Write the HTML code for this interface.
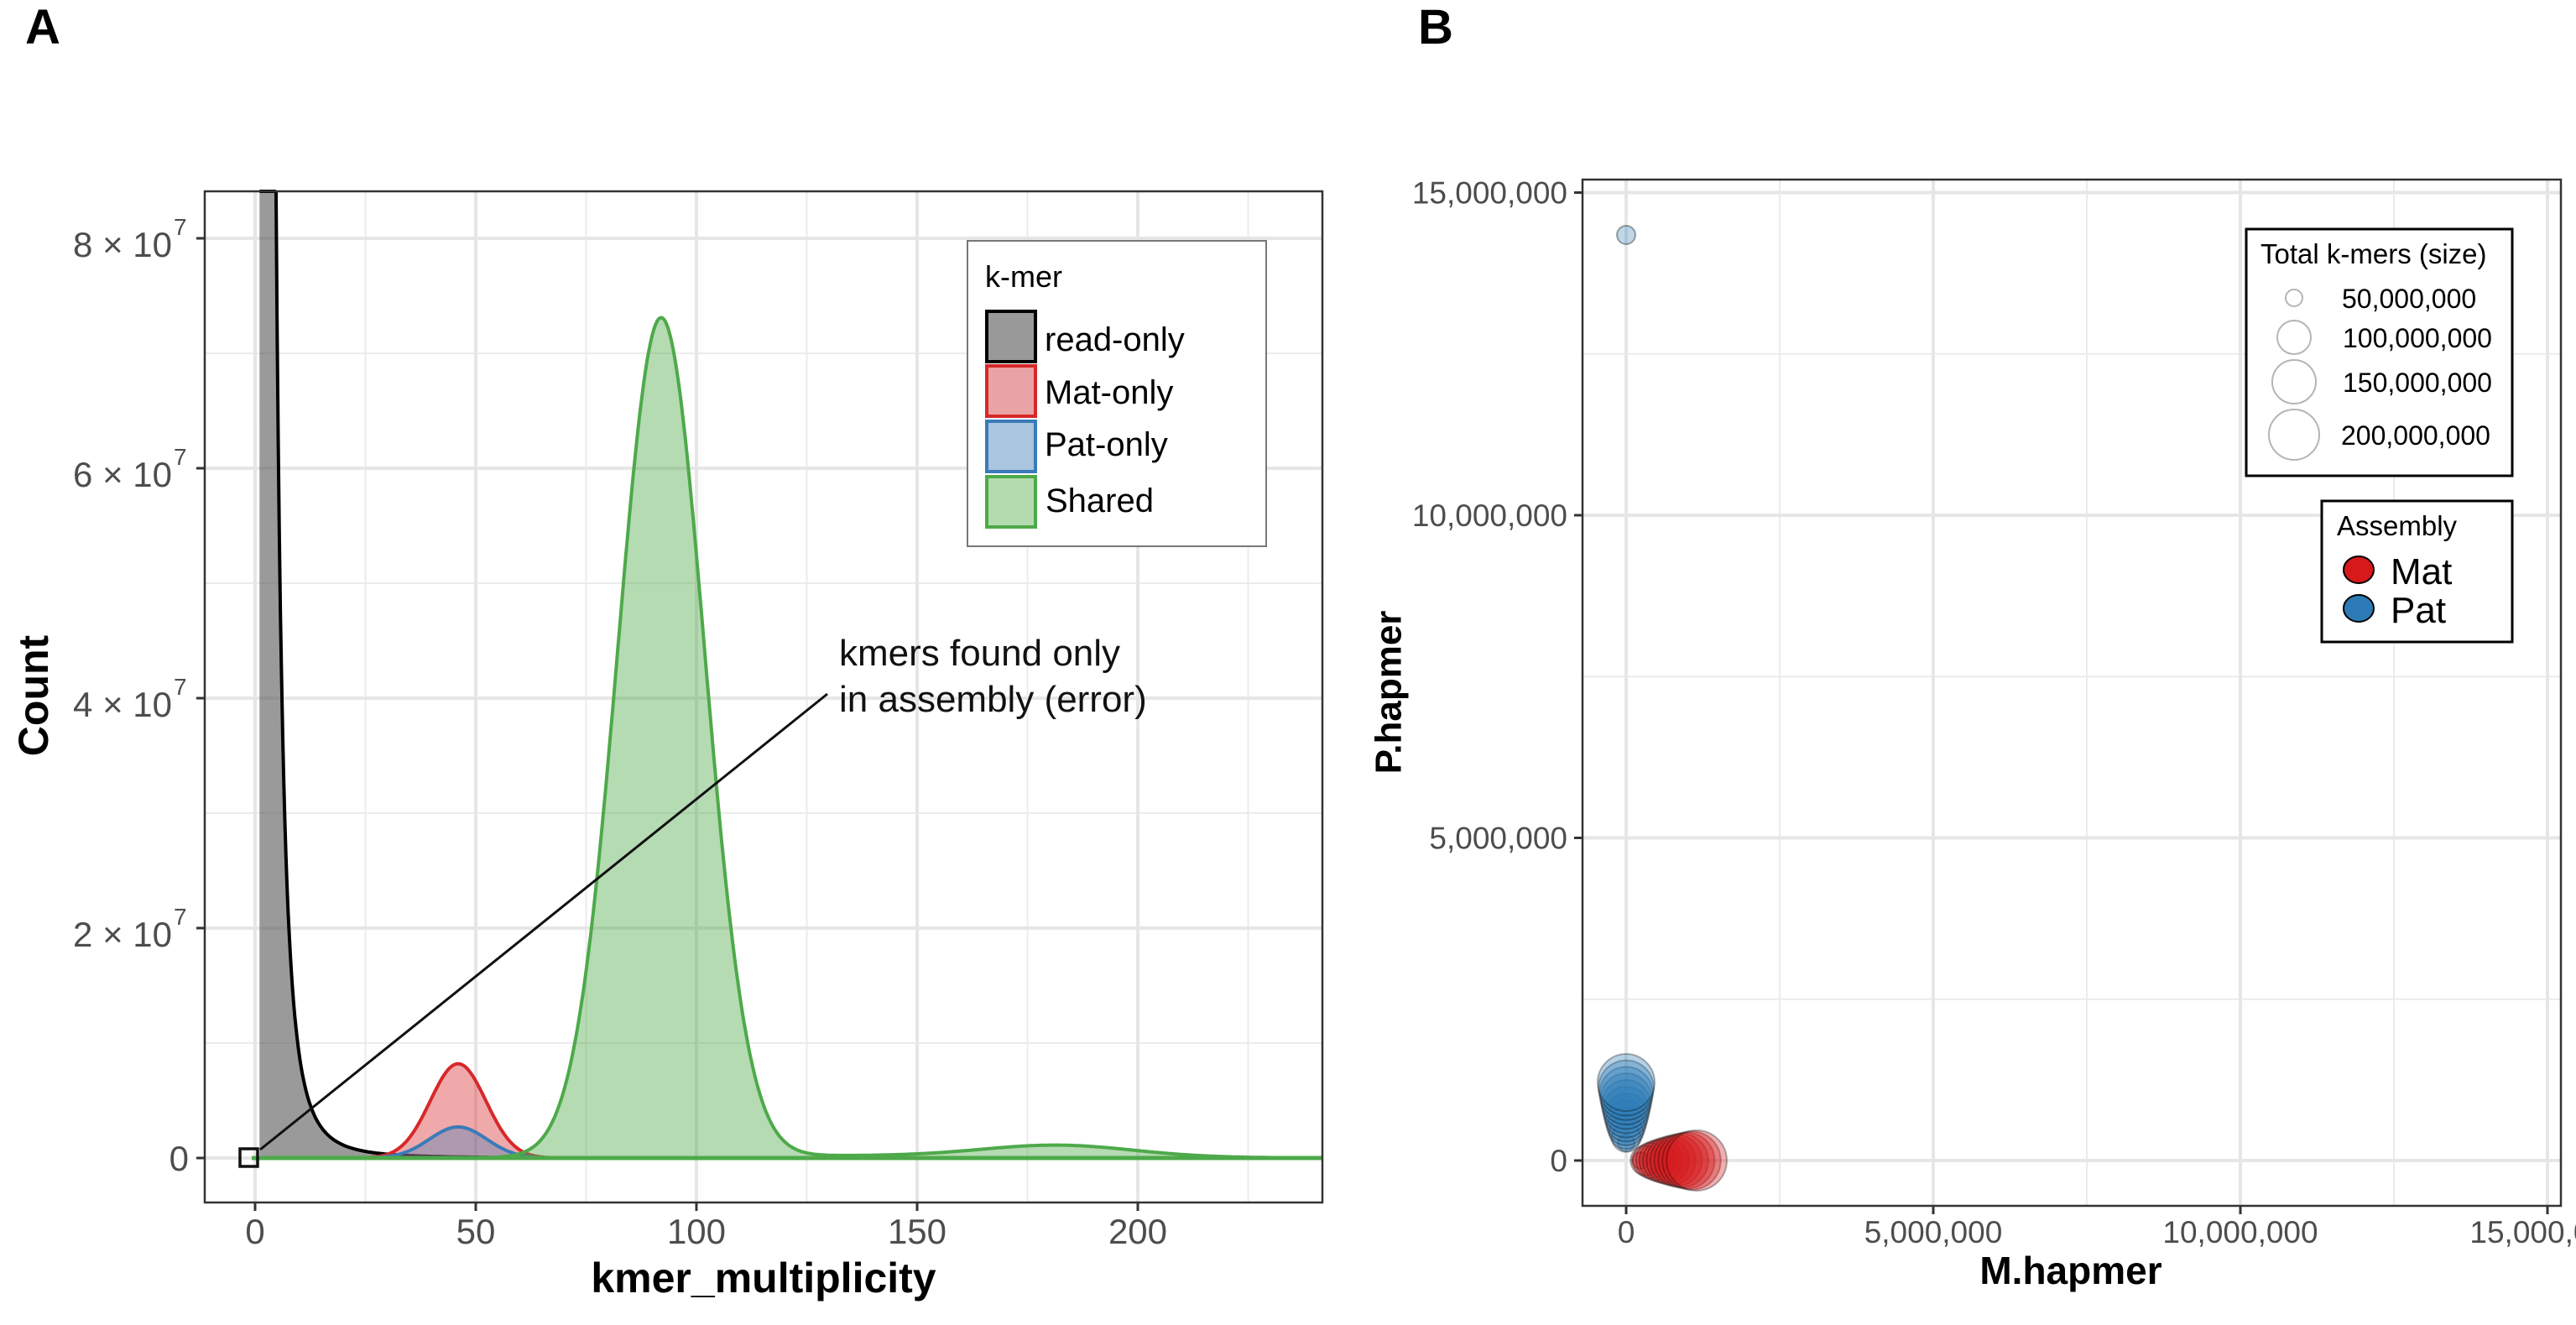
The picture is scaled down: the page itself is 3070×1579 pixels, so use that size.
<!DOCTYPE html>
<html><head><meta charset="utf-8"><style>
html,body{margin:0;padding:0;background:#fff;}
svg{display:block;font-family:"Liberation Sans",Arial,sans-serif;}
</style></head><body>
<svg id="s" width="3070" height="1579" viewBox="0 0 3070 1579" xmlns="http://www.w3.org/2000/svg">
<rect width="3070" height="1579" fill="#fff"/>
<text x="30" y="52" font-size="58" font-weight="bold">A</text>
<text x="1690" y="52" font-size="58" font-weight="bold">B</text>

<!-- Panel A -->
<g id="gA">
<rect x="244" y="228" width="1332" height="1205" fill="#fff"/>
<g stroke="#ebebeb" stroke-width="2" id="gridAminor"></g>
<g stroke="#e6e6e6" stroke-width="4" id="gridAmajor"></g>
<g id="curvesA"></g>
<line x1="300" y1="1380" x2="1576" y2="1380" stroke="#4ea94a" stroke-width="5"/>
<rect x="244" y="228" width="1332" height="1205" fill="none" stroke="#333" stroke-width="2.5"/>
<g id="ticksA" fill="#4d4d4d" font-size="42"></g>
<text x="40" y="829" font-size="50" font-weight="bold" text-anchor="middle" transform="rotate(-90 40 829)" dominant-baseline="central">Count</text>
<text x="910" y="1540" font-size="50" font-weight="bold" text-anchor="middle">kmer_multiplicity</text>
<!-- legend -->
<rect x="1153" y="287" width="356" height="364" fill="#fff" stroke="#777" stroke-width="2"/>
<text x="1174" y="342" font-size="36">k-mer</text>
<rect x="1176" y="371" width="58" height="60" fill="#999" stroke="#000" stroke-width="4"/>
<rect x="1176" y="436" width="58" height="60" fill="#e9a3a4" stroke="#d7282a" stroke-width="4"/>
<rect x="1176" y="502" width="58" height="60" fill="#aac5df" stroke="#3a7bb8" stroke-width="4"/>
<rect x="1176" y="568" width="58" height="60" fill="#b3dbaf" stroke="#4ea94a" stroke-width="4"/>
<text x="1245" y="418" font-size="40">read-only</text>
<text x="1245" y="481" font-size="40">Mat-only</text>
<text x="1245" y="543" font-size="40">Pat-only</text>
<text x="1246" y="610" font-size="40">Shared</text>
<!-- annotation -->
<line x1="310" y1="1370" x2="986" y2="827" stroke="#111" stroke-width="3"/>
<rect x="286" y="1369" width="21" height="21" fill="none" stroke="#111" stroke-width="3.5"/>
<text x="1000" y="793" font-size="44" fill="#111">kmers found only</text>
<text x="1000" y="848" font-size="44" fill="#111">in assembly (error)</text>
</g>

<!-- Panel B -->
<g id="gB">
<g stroke="#ebebeb" stroke-width="2" id="gridBminor"></g>
<g stroke="#e6e6e6" stroke-width="4" id="gridBmajor"></g>
<g id="pts"></g>
<rect x="1886" y="214" width="1166" height="1223" fill="none" stroke="#333" stroke-width="2.5"/>
<g id="ticksB" fill="#4d4d4d" font-size="37"></g>
<text x="1655" y="825" font-size="44" font-weight="bold" text-anchor="middle" transform="rotate(-90 1655 825)" dominant-baseline="central">P.hapmer</text>
<text x="2468" y="1530" font-size="46" font-weight="bold" text-anchor="middle">M.hapmer</text>
<!-- size legend -->
<rect x="2677" y="273" width="317" height="294" fill="#fff" stroke="#000" stroke-width="3"/>
<text x="2694" y="314" font-size="33">Total k-mers (size)</text>
<g fill="none" stroke="#b5b5b5" stroke-width="2">
<circle cx="2734" cy="355" r="10"/><circle cx="2734" cy="402" r="20"/>
<circle cx="2734" cy="455" r="26"/><circle cx="2734" cy="518" r="30"/>
</g>
<g font-size="32"><text x="2791" y="367">50,000,000</text>
<text x="2792" y="414">100,000,000</text><text x="2792" y="467">150,000,000</text><text x="2790" y="530">200,000,000</text></g>
<rect x="2767" y="597" width="227" height="168" fill="#fff" stroke="#000" stroke-width="3"/>
<text x="2785" y="638" font-size="33">Assembly</text>
<ellipse cx="2811" cy="679" rx="18" ry="16" fill="#d7191c" stroke="#000" stroke-width="2"/>
<ellipse cx="2811" cy="725" rx="18" ry="16" fill="#2c7bb6" stroke="#000" stroke-width="2"/>
<text x="2849" y="696" font-size="44">Mat</text>
<text x="2849" y="742" font-size="44">Pat</text>
</g>
</svg>
<script>
(function(){
var NS="http://www.w3.org/2000/svg";
function el(p,t,a,txt){var e=document.createElementNS(NS,t);for(var k in a)e.setAttribute(k,a[k]);if(txt!==undefined)e.textContent=txt;document.getElementById(p).appendChild(e);return e;}
var L=244,R=1576,T=228,B=1433;
function X(k){return 304+k*5.26;}
function Y(c){return 1380-c*137;}
for(var k=25;k<=225;k+=50){var x=X(k);if(x<R)el("gridAminor","line",{x1:x,x2:x,y1:T,y2:B});}
for(var c=1;c<=7;c+=2){el("gridAminor","line",{x1:L,x2:R,y1:Y(c),y2:Y(c)});}
for(var k=0;k<=200;k+=50){var x=X(k);el("gridAmajor","line",{x1:x,x2:x,y1:T,y2:B});
 el("ticksA","line",{x1:x,x2:x,y1:B,y2:B+10,stroke:"#333","stroke-width":3});
 el("ticksA","text",{x:x,y:1482,"text-anchor":"middle"},String(k));}
for(var c=0;c<=8;c+=2){var y=Y(c);el("gridAmajor","line",{x1:L,x2:R,y1:y,y2:y});
 el("ticksA","line",{x1:L-10,x2:L,y1:y,y2:y,stroke:"#333","stroke-width":3});
 if(c==0){el("ticksA","text",{x:225,y:y+15,"text-anchor":"end"},"0");}
 else{el("ticksA","text",{x:205,y:y+22,"text-anchor":"end"},c+" \u00d7 10");
  el("ticksA","text",{x:207,y:y-4,"font-size":28},"7");}}
function gauss(k,m,s,h){return h*Math.exp(-0.5*Math.pow((k-m)/s,2));}
function curve(f,k0,k1,fill,stroke,sw){
 var pts=[],k;for(k=k0;k<=k1;k+=0.25){var y=Math.max(Y(f(k)),T);pts.push(X(k).toFixed(1)+","+y.toFixed(1));}
 var g=document.getElementById("curvesA");
 var a=document.createElementNS(NS,"path");
 a.setAttribute("d","M"+X(k0)+","+Y(0)+" L"+pts.join(" L")+" L"+X(k1)+","+Y(0)+" Z");
 a.setAttribute("fill",fill);g.appendChild(a);
 var l=document.createElementNS(NS,"path");
 l.setAttribute("d","M"+pts.join(" L"));l.setAttribute("fill","none");l.setAttribute("stroke",stroke);l.setAttribute("stroke-width",sw);g.appendChild(l);
}
var kmax=(R-304)/5.26;
curve(function(k){return k<4.6?20:900/Math.pow(k,3);},1,kmax,"rgba(100,100,100,0.65)","#000",4);
curve(function(k){return gauss(k,46,6.3,0.82);},1,kmax,"rgba(215,40,42,0.4)","#d7282a",4);
curve(function(k){return gauss(k,46,6.5,0.27);},1,kmax,"rgba(58,123,184,0.35)","#3a7bb8",4);
curve(function(k){return gauss(k,92,9.8,7.3)+gauss(k,182,17,0.1)+0.02*Math.exp(-Math.pow((k-140)/60,2));},0,kmax,"rgba(78,169,74,0.42)","#4ea94a",4);
var BL=1886,BR=3052,BT=214,BB=1437;
function MX(m){return 1938+m*73.2;} function PY(p){return 1383-p*76.9;}
for(var m=2.5;m<15;m+=5){var x=MX(m);el("gridBminor","line",{x1:x,x2:x,y1:BT,y2:BB});}
for(var p=2.5;p<15;p+=5){var y=PY(p);el("gridBminor","line",{x1:BL,x2:BR,y1:y,y2:y});}
var lab=["0","5,000,000","10,000,000","15,000,000"];
for(var i=0;i<4;i++){var x=MX(i*5),y=PY(i*5);
 el("gridBmajor","line",{x1:x,x2:x,y1:BT,y2:BB});el("gridBmajor","line",{x1:BL,x2:BR,y1:y,y2:y});
 el("ticksB","line",{x1:x,x2:x,y1:BB,y2:BB+10,stroke:"#333","stroke-width":3});
 el("ticksB","line",{x1:BL-10,x2:BL,y1:y,y2:y,stroke:"#333","stroke-width":3});
 el("ticksB","text",{x:x,y:1481,"text-anchor":"middle"},lab[i]);
 el("ticksB","text",{x:1868,y:y+13,"text-anchor":"end"},lab[i]);}
el("pts","circle",{cx:1938,cy:280,r:11,fill:"rgba(44,123,182,0.3)",stroke:"rgba(0,0,0,0.35)","stroke-width":2});
for(var i=0;i<12;i++){var f=i/11;
 el("pts","circle",{cx:1938,cy:1362-f*72,r:10+Math.sqrt(f)*24,fill:"rgba(44,123,182,0.35)",stroke:"rgba(0,0,0,0.3)","stroke-width":2});}
for(var i=0;i<12;i++){var f=i/11;
 el("pts","circle",{cx:1955+f*67,cy:1383,r:10+Math.sqrt(f)*26,fill:"rgba(215,25,28,0.35)",stroke:"rgba(0,0,0,0.3)","stroke-width":2});}
})();
</script>
</body></html>
